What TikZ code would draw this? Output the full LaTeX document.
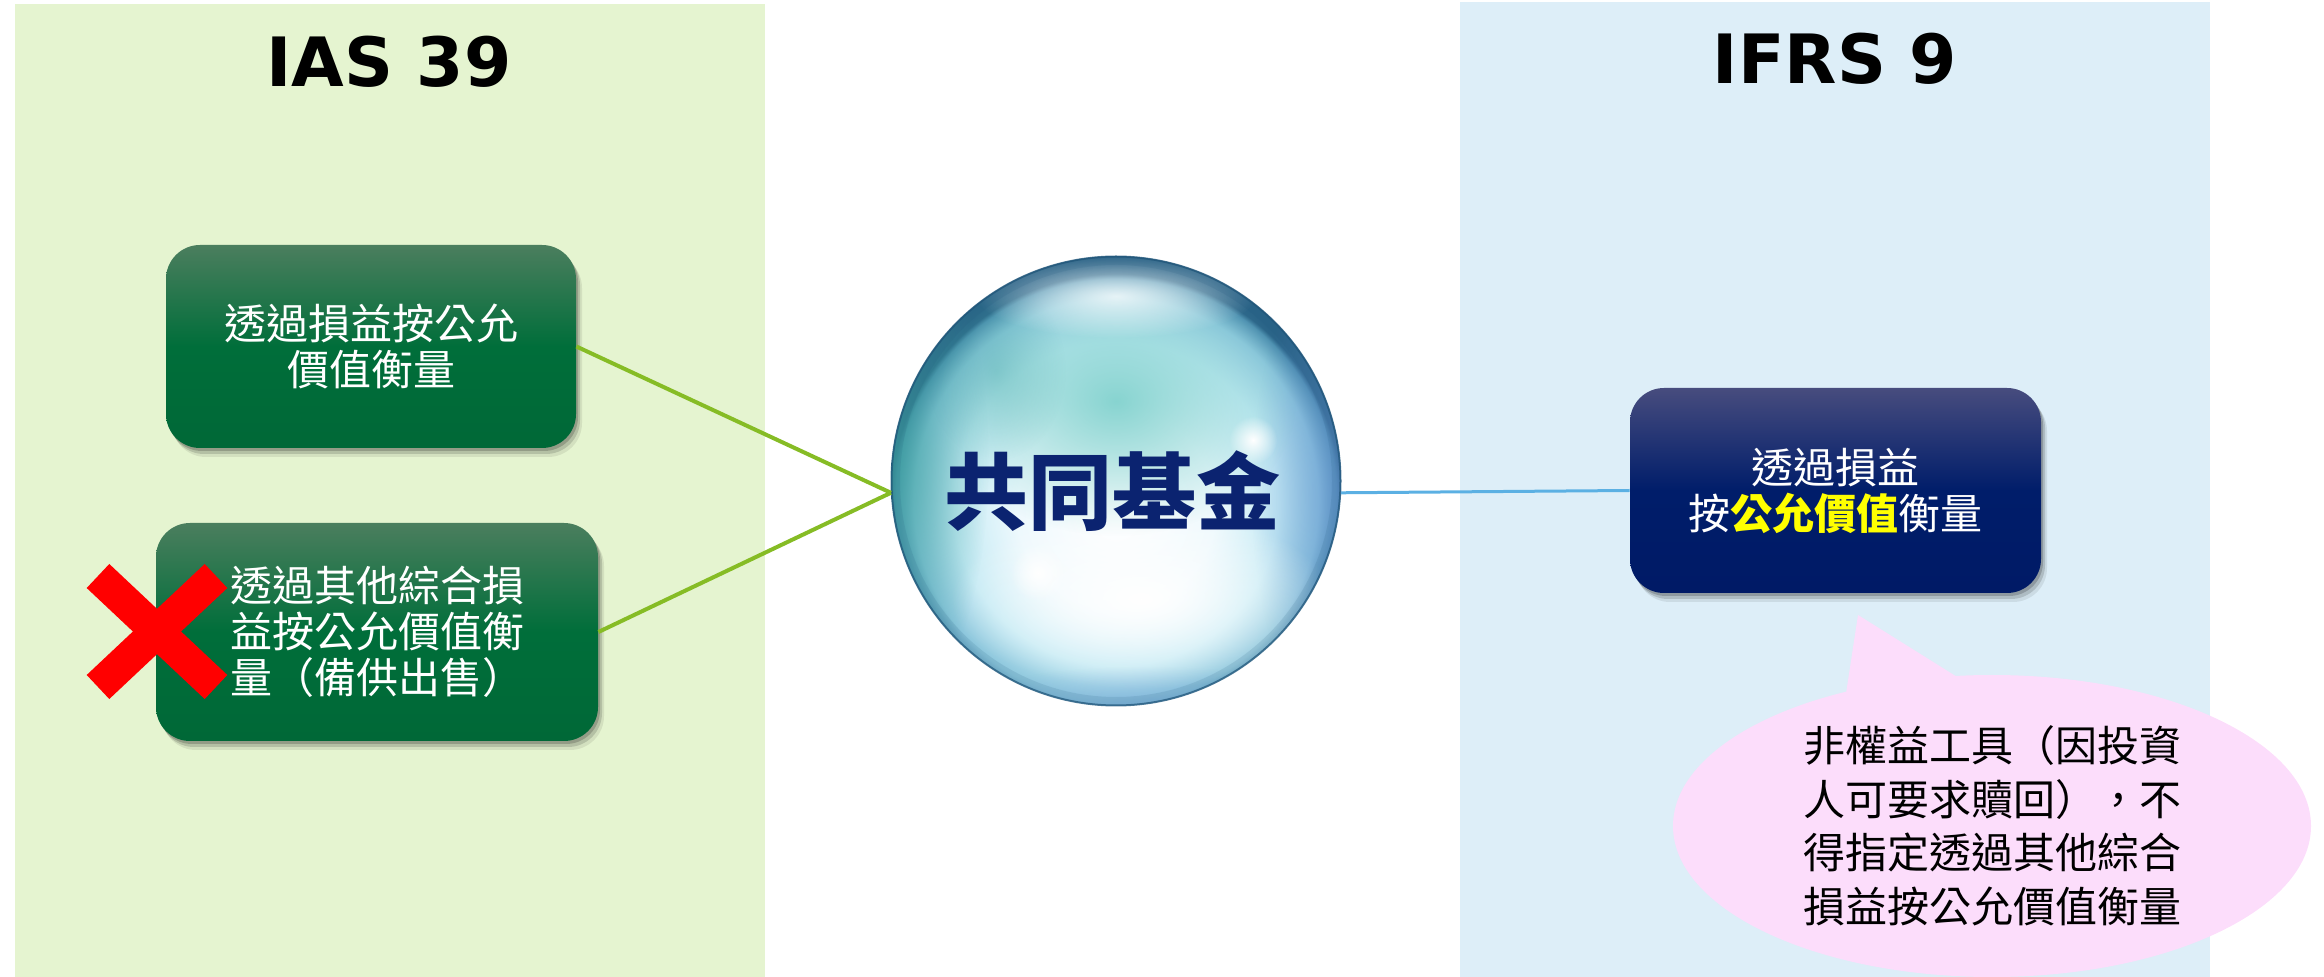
\documentclass[tikz,border=0pt]{standalone}
\usepackage{fontspec}
\setmainfont{DejaVu Sans}
\newfontfamily\cjk{Noto Sans CJK TC}
\usetikzlibrary{shapes.geometric,shadows,fadings,calc}

\definecolor{panelgreen}{HTML}{E5F4D0}
\definecolor{panelblue}{HTML}{DDEEF8}
\definecolor{gtop}{HTML}{4B7E5E}
\definecolor{gmid}{HTML}{006E3A}
\definecolor{gbot}{HTML}{006837}
\definecolor{ntop}{HTML}{474C7E}
\definecolor{nmid}{HTML}{001D6A}
\definecolor{nbot}{HTML}{001A66}
\definecolor{linkgreen}{HTML}{86BC25}
\definecolor{linkblue}{HTML}{5BB0E3}
\definecolor{notepink}{HTML}{FCDDFB}
\definecolor{fundnavy}{HTML}{0B2370}
\definecolor{markred}{HTML}{FF0000}
\definecolor{hiyellow}{HTML}{FFFF00}
% bubble colours
\definecolor{bubA}{HTML}{EEF9FD}
\definecolor{bubB}{HTML}{C4EAF4}
\definecolor{bubC}{HTML}{8CC6DC}
\definecolor{bubD}{HTML}{4D8FB0}
\definecolor{bubE}{HTML}{2A6488}
\definecolor{bubTeal}{HTML}{3FA5A0}
\definecolor{bubCyan}{HTML}{82D2CE}
\definecolor{bubBlue}{HTML}{6A95D6}
\definecolor{bubRim}{HTML}{1F5478}

\pgfdeclareradialshading{bubble}{\pgfpoint{0bp}{-4bp}}{%
  color(0bp)=(white); color(11bp)=(bubA); color(18bp)=(bubB);
  color(22.5bp)=(bubC); color(24.5bp)=(bubD); color(25bp)=(bubE); color(50bp)=(bubE)}
\tikzfading[name=soft, inner color=transparent!0, outer color=transparent!100]

\tikzset{
  title/.style={font=\fontsize{34pt}{40pt}\selectfont\bfseries, text=black, inner sep=0},
  boxbase/.style={rounded corners=17pt, inner sep=0, align=center, text=white,
    font=\cjk\fontsize{21pt}{23pt}\selectfont,
    drop shadow={shadow xshift=1pt, shadow yshift=-1.5pt, fill=black, opacity=.18},
    drop shadow={shadow xshift=2pt, shadow yshift=-3pt, fill=black, opacity=.14},
    drop shadow={shadow xshift=3pt, shadow yshift=-4.5pt, fill=black, opacity=.08}},
  gbox/.style={boxbase, top color=gtop, bottom color=gbot, middle color=gmid},
  nbox/.style={boxbase, top color=ntop, bottom color=nbot, middle color=nmid},
  xmark/.style={markred, line width=16.5pt, line cap=butt},
  glink/.style={linkgreen, line width=2pt},
  blink/.style={linkblue, line width=1.5pt},
  note/.style={ellipse, fill=notepink, inner sep=0, align=center, text=black,
    font=\cjk\fontsize{21pt}{26.75pt}\selectfont},
}

\begin{document}
\begin{tikzpicture}[x=0.5pt, y=-0.5pt]
\useasboundingbox (0,0) rectangle (2324,977);

% background panels
\fill[panelgreen] (15,4) rectangle (765,977);
\fill[panelblue] (1460,2) rectangle (2210,977);

% panel titles
\node[title] (tias) at (389,62) {IAS 39};
\node[title] (tifrs) at (1835,59) {IFRS 9};

% IAS 39 categories
\node[gbox, minimum width=205pt, minimum height=101.5pt] (fvpl) at (371,346.5)
  {透過損益按公允\\價值衡量};
\node[gbox, minimum width=221pt, minimum height=109pt] (afs) at (377,632)
  {透過其他綜合損\\益按公允價值衡\\量（備供出售）};

% cross over the available-for-sale category
\draw[xmark] (98,576) -- (216,687);
\draw[xmark] (98,687) -- (216,576);

% IFRS 9 category
\node[nbox, minimum width=205.5pt, minimum height=102.5pt] (ifrs) at (1835.5,490.5)
  {透過損益\\按{\bfseries\color{hiyellow}公允價值}衡量};

% the bubble
\node[circle, minimum size=225pt, inner sep=0] (sphere) at (1116,481) {};
\begin{scope}[shift={(sphere.center)}]
  \begin{scope}
    \clip (0,0) circle[radius=225];
    \shade[shading=bubble] (0,0) circle[radius=225];
    \fill[bubTeal, path fading=soft, opacity=.75] (-222,-20) ellipse[x radius=95, y radius=250];
    \fill[bubBlue, path fading=soft, opacity=.6] (225,10) ellipse[x radius=90, y radius=240];
    \fill[bubCyan, path fading=soft, opacity=.95] (0,-80) ellipse[x radius=180, y radius=135];
    \fill[bubTeal, path fading=soft, opacity=.35] (-120,-110) ellipse[x radius=70, y radius=90];
    \fill[white, path fading=soft, opacity=.8] (0,-185) ellipse[x radius=140, y radius=42];
    \fill[white, path fading=soft] (25,118) ellipse[x radius=190, y radius=90];
    \fill[white, path fading=soft] (-78,92) circle[radius=28];
    \fill[white, path fading=soft] (137,-41) circle[radius=24];
    \fill[bubBlue, path fading=soft, opacity=.35] (30,225) ellipse[x radius=190, y radius=40];
  \end{scope}
  \draw[bubRim, line width=4pt, opacity=.12] (0,0) circle[radius=220];
  \draw[bubRim, line width=1pt, opacity=.75] (0,0) circle[radius=224.5];
\end{scope}
\node[font=\cjk\fontsize{42pt}{46pt}\selectfont\bfseries, text=fundnavy, inner sep=0]
  (fund) at (1112,491) {共同基金};

% speech bubble with its pointer
\coordinate (tip) at (1858,615);
\fill[notepink] (1845,700) -- (tip) -- (1962,680) -- cycle;
\node[note, minimum width=319pt, minimum height=151pt] (remark) at (1992,826)
  {非權益工具（因投資\\人可要求贖回），不\\得指定透過其他綜合\\損益按公允價值衡量};

% connectors
\draw[glink] (fvpl.east) -- (sphere.183);
\draw[glink] (afs.east) -- (sphere.183);
\draw[blink] (sphere.-3) -- (ifrs.west);
\end{tikzpicture}
\end{document}
